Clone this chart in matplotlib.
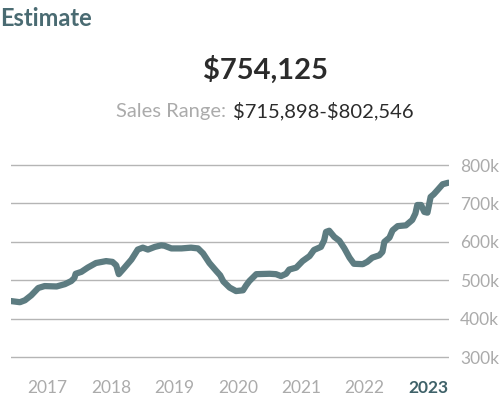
import matplotlib
matplotlib.use("Agg")
import matplotlib.pyplot as plt

plt.rcParams['font.family'] = ['Lato', 'DejaVu Sans']
plt.rcParams['text.parse_math'] = False

# Estimated value history (fractional year, value in $k)
years = [2016.42, 2016.56, 2016.64, 2016.74, 2016.85, 2016.95, 2017.14, 2017.27, 2017.37,
         2017.42, 2017.44, 2017.53, 2017.63, 2017.76, 2017.92, 2018.02, 2018.08, 2018.12,
         2018.19, 2018.32, 2018.42, 2018.50, 2018.58, 2018.69, 2018.79, 2018.84, 2018.95,
         2019.11, 2019.26, 2019.37, 2019.45, 2019.55, 2019.66, 2019.72, 2019.77, 2019.87,
         2019.97, 2020.08, 2020.13, 2020.18, 2020.29, 2020.50, 2020.60, 2020.68, 2020.76,
         2020.81, 2020.92, 2021.02, 2021.13, 2021.20, 2021.31, 2021.36, 2021.39, 2021.44,
         2021.52, 2021.60, 2021.68, 2021.76, 2021.83, 2021.97, 2022.04, 2022.12, 2022.23,
         2022.28, 2022.31, 2022.39, 2022.44, 2022.52, 2022.65, 2022.75, 2022.80, 2022.83,
         2022.89, 2022.94, 2022.99, 2023.04, 2023.09, 2023.15, 2023.23, 2023.32]
values = [446, 443, 448, 461, 480, 485, 484, 490, 498,
          506, 517, 522, 533, 545, 550, 548, 539, 516,
          529, 554, 580, 585, 580, 587, 591, 590, 583,
          583, 585, 583, 570, 545, 524, 513, 497, 481,
          472, 474, 487, 498, 516, 517, 516, 511, 517,
          528, 533, 550, 563, 579, 587, 604, 626, 629,
          613, 603, 583, 559, 543, 542, 548, 559, 565,
          574, 600, 611, 630, 641, 643, 657, 674, 696,
          696, 678, 676, 717, 724, 735, 750, 754]

year_ticks = [2017, 2018, 2019, 2020, 2021, 2022, 2023]
value_ticks = [300, 400, 500, 600, 700, 800]
value_labels = ['300k', '400k', '500k', '600k', '700k', '800k']

title = 'Estimate'
estimate = '$754,125'
range_label = 'Sales Range:'
range_value = '$715,898-$802,546'

fig = plt.figure(figsize=(5, 3.95), dpi=100)
W, H = 500, 395

# axes placed in pixel terms
left, right = 11, 449
top, bottom = 153.5, 368.5
ax = fig.add_axes([left / W, 1 - bottom / H, (right - left) / W, (bottom - top) / H])
ax.set_xlim(2016.42, 2023.33)
ax.set_ylim(270.5, 830)

for v in value_ticks:
    ax.axhline(v, color='#b5b5b5', lw=1.0, zorder=1)
ax.plot(years, values, color='#5d7c81', lw=4.5, solid_capstyle='round',
        solid_joinstyle='round', zorder=3)

for s in ax.spines.values():
    s.set_visible(False)
ax.yaxis.tick_right()
ax.set_yticks(value_ticks)
ax.set_yticklabels(value_labels)
ax.tick_params(axis='y', length=0, pad=8, labelsize=12.5, labelcolor='#ababab')
ax.set_xticks(year_ticks)
ax.set_xticklabels([str(y) for y in year_ticks])
ax.tick_params(axis='x', length=0, pad=8, labelsize=12.5, labelcolor='#ababab')
xl = ax.get_xticklabels()[-1]
xl.set_color('#3f6269')
xl.set_fontweight('bold')

fig.text(0 / W, 1 - 18 / H, title, fontsize=17, fontweight='bold', color='#4a6b72',
         ha='left', va='center')
fig.text(266 / W, 1 - 70 / H, estimate, fontsize=21, fontweight='bold', color='#2b2b2b',
         ha='center', va='center')
fig.text(226 / W, 1 - 111 / H, range_label, fontsize=14.5, color='#ababab',
         ha='right', va='center')
fig.text(233 / W, 1 - 111 / H, range_value, fontsize=14.5, color='#2b2b2b',
         ha='left', va='center')

fig.savefig('out.png', dpi=100)
